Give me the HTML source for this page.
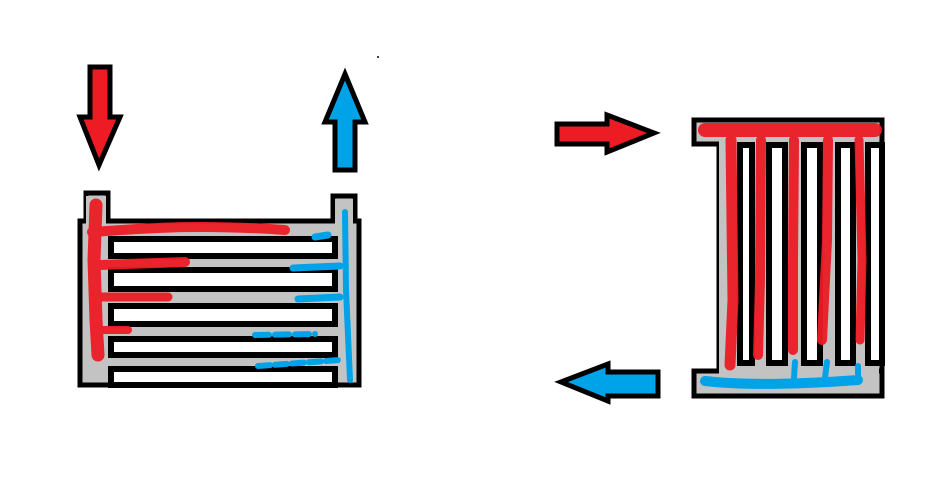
<!DOCTYPE html>
<html><head><meta charset="utf-8"><style>html,body{margin:0;padding:0;background:#fff}svg{display:block}</style></head>
<body>
<svg width="948" height="495" viewBox="0 0 948 495" xmlns="http://www.w3.org/2000/svg">
<rect x="377" y="56" width="2" height="2" fill="#444"/>
<g stroke="#000" stroke-width="5" stroke-linejoin="miter">
<polygon fill="#ed1c24" points="90,67 110,67 110,117 120,117 99,165 80,117 90,117"/>
<polygon fill="#00a2e8" points="345,74 365,122 355,122 355,170 335,170 335,122 325,122"/>
<polygon fill="#ed1c24" points="557,124 607,124 607,115 654,133 607,152 607,144 557,144"/>
<polygon fill="#00a2e8" points="561,382 608,364 608,372 658,372 658,396 608,396 608,401"/>
<rect x="86" y="193" width="22" height="30" fill="#c3c3c3"/>
<rect x="333" y="196" width="22" height="27" fill="#c3c3c3"/>
<rect x="80" y="221" width="279" height="164" fill="#c3c3c3"/>
<rect x="86" y="196" width="20" height="30" fill="#c3c3c3" stroke="none"/>
<rect x="335" y="199" width="18" height="27" fill="#c3c3c3" stroke="none"/>
<g fill="#fff" stroke-width="6">
<rect x="111" y="239" width="224" height="17"/>
<rect x="111" y="270" width="224" height="19"/>
<rect x="111" y="306" width="224" height="18"/>
<rect x="111" y="339" width="224" height="16"/>
<rect x="111" y="369" width="224" height="16"/>
</g>
<rect x="719" y="120" width="163" height="276" fill="#c3c3c3"/>
<rect x="694" y="120" width="188" height="24" fill="#c3c3c3"/>
<rect x="694" y="371" width="188" height="25" fill="#c3c3c3"/>
<rect x="719" y="123" width="160" height="270" fill="#c3c3c3" stroke="none"/>
<g fill="#fff" stroke-width="6">
<rect x="740" y="145" width="12" height="218"/>
<rect x="769" y="145" width="16" height="218"/>
<rect x="804" y="145" width="16" height="218"/>
<rect x="838" y="145" width="15" height="218"/>
<rect x="868" y="145" width="14" height="218"/>
</g>
</g>
<g stroke="#ed1c24" stroke-linecap="round" fill="none" opacity="0.95">
<path d="M96 205 L94 260 L96 320 L98 355" stroke-width="13"/>
<path d="M92 232 C150 228 200 224 285 230" stroke-width="10"/>
<path d="M100 265 L185 262" stroke-width="10"/>
<path d="M100 297 L168 297" stroke-width="9"/>
<path d="M100 330 L128 330" stroke-width="8"/>
<path d="M705 130 L875 130" stroke-width="14"/>
<path d="M731 140 L733 300 L730 365" stroke-width="11"/>
<path d="M761 140 L760 280 L758 355" stroke-width="10"/>
<path d="M794 140 L793 260 L793 350" stroke-width="10"/>
<path d="M828 140 L827 240 L822 340" stroke-width="10"/>
<path d="M859 140 L862 260 L860 340" stroke-width="9"/>
</g>
<g stroke="#00a2e8" stroke-linecap="round" fill="none">
<path d="M345 212 L346 290 L350 380" stroke-width="6"/>
<path d="M315 237 L328 235" stroke-width="7"/>
<path d="M293 268 L340 266" stroke-width="7"/>
<path d="M298 299 L340 297" stroke-width="7"/>
<path d="M255 335 L315 334" stroke-width="6" stroke-dasharray="14 6"/>
<path d="M258 366 L340 360" stroke-width="6" stroke-dasharray="12 5"/>
<path d="M705 381 C740 385 790 385 858 380" stroke-width="10"/>
<path d="M794 378 L795 362 M825 378 L827 362 M858 378 L858 366" stroke-width="6"/>
</g>
</svg>
</body></html>
